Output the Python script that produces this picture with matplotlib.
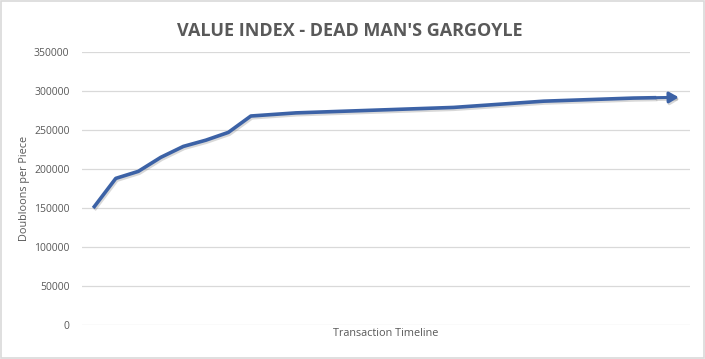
import matplotlib.pyplot as plt
import matplotlib.patheffects as pe
from matplotlib.patches import Rectangle

# data
steps = list(range(27))
doubloons = [150000, 188000, 197000, 215000, 229000, 237000, 247000, 268000,
             270000, 272000, 273000, 274000, 275000, 276000, 277000, 278000,
             279000, 281000, 283000, 285000, 287000, 288000, 289000, 290000,
             291000, 291500, 292000]
yticks = [0, 50000, 100000, 150000, 200000, 250000, 300000, 350000]

line_col = '#3C62A6'
text_col = '#595959'
grid_col = '#D9D9D9'

plt.rcParams['font.family'] = ['Open Sans', 'DejaVu Sans']

fig = plt.figure(figsize=(7.05, 3.59), dpi=100)
ax = fig.add_axes([0.1163, 0.0947, 0.8624, 0.7603])

shadow = [pe.SimpleLineShadow(offset=(0.8, -1.3), shadow_color='#7f7f7f', alpha=0.3), pe.Normal()]

ax.plot(steps[:-1], doubloons[:-1], color=line_col, lw=2.6, solid_joinstyle='round',
        solid_capstyle='butt', path_effects=shadow, zorder=3)
ax.annotate('', xy=(steps[-1], doubloons[-1]), xytext=(steps[-2], doubloons[-2]),
            arrowprops=dict(arrowstyle='-|>,head_length=0.55,head_width=0.32', color=line_col,
                            lw=2.2, mutation_scale=10, shrinkA=0, shrinkB=0,
                            path_effects=shadow), zorder=3)

ax.set_xlim(-0.5, len(steps) - 0.5)
ax.set_ylim(0, 350000)
ax.set_yticks(yticks)
ax.set_yticklabels([str(v) for v in yticks])
ax.set_xticks([])
ax.grid(axis='y', color=grid_col, lw=0.9)
ax.set_axisbelow(True)
for s in ax.spines.values():
    s.set_visible(False)
ax.tick_params(axis='y', length=0, pad=9, labelsize=7.5, labelcolor=text_col)

ax.set_ylabel('Doubloons per Piece', fontsize=7.8, color=text_col, labelpad=3)
ax.set_xlabel('Transaction Timeline', fontsize=7.8, color=text_col, labelpad=2)

fig.text(0.4965, 0.915, "VALUE INDEX - DEAD MAN'S GARGOYLE", ha='center', va='center',
         fontsize=13, fontweight='bold', color=text_col)

fig.patches.append(Rectangle((0.001, 0.002), 0.997, 0.995, transform=fig.transFigure,
                             fill=False, edgecolor=grid_col, lw=1.2))

fig.savefig('out.png', dpi=100)
